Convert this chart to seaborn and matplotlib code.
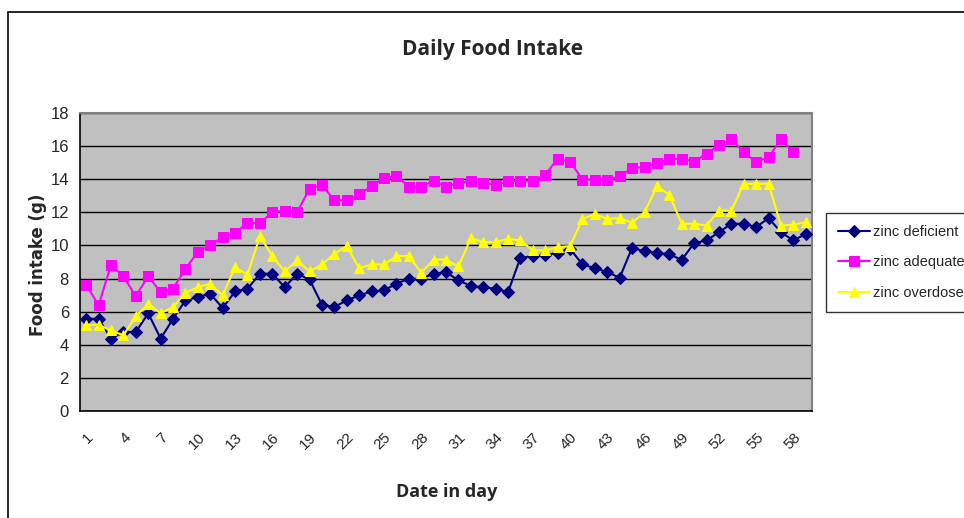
import numpy as np
import pandas as pd
import matplotlib
matplotlib.use('Agg')
import matplotlib.pyplot as plt
from matplotlib.patches import Rectangle
import seaborn as sns

# Data (daily food intake in g)
days = list(range(1, 60))
zinc_deficient = [5.57, 5.57, 4.37, 4.77, 4.77, 5.9, 4.37, 5.57, 6.68, 6.88,
                  7.08, 6.22, 7.22, 7.38, 8.29, 8.29, 7.48, 8.29, 7.95, 6.42,
                  6.28, 6.68, 6.98, 7.22, 7.28, 7.69, 7.99, 7.99, 8.29, 8.39,
                  7.89, 7.55, 7.48, 7.38, 7.18, 9.26, 9.34, 9.4, 9.56, 9.8,
                  8.85, 8.63, 8.39, 8.05, 9.86, 9.64, 9.56, 9.46, 9.13, 10.14,
                  10.3, 10.8, 11.31, 11.31, 11.11, 11.65, 10.8, 10.3, 10.7]
zinc_adequate = [7.63, 6.38, 8.83, 8.13, 6.94, 8.15, 7.18, 7.38, 8.59, 9.6,
                 10.0, 10.5, 10.76, 11.35, 11.35, 12.0, 12.1, 12.0, 13.42, 13.66,
                 12.72, 12.72, 13.08, 13.58, 14.06, 14.19, 13.56, 13.56, 13.9, 13.56,
                 13.78, 13.88, 13.78, 13.66, 13.88, 13.88, 13.88, 14.27, 15.23, 15.07,
                 13.98, 13.98, 13.98, 14.17, 14.67, 14.75, 14.97, 15.23, 15.23, 15.07,
                 15.53, 16.04, 16.4, 15.63, 15.03, 15.33, 16.4, 15.63, np.nan]
zinc_overdose = [5.2, 5.2, 4.87, 4.57, 5.73, 6.48, 5.9, 6.28, 7.14, 7.48,
                 7.69, 6.98, 8.69, 8.23, 10.56, 9.36, 8.43, 9.1, 8.43, 8.85,
                 9.5, 9.96, 8.63, 8.85, 8.85, 9.36, 9.36, 8.35, 9.15, 9.15,
                 8.73, 10.44, 10.2, 10.2, 10.4, 10.3, 9.7, 9.7, 9.9, 9.96,
                 11.6, 11.9, 11.6, 11.65, 11.37, 12.0, 13.58, 13.06, 11.31, 11.31,
                 11.2, 12.11, 12.11, 13.72, 13.72, 13.72, 11.2, 11.25, 11.41]
tick_days = list(range(1, 60, 3))

series = [
    ('zinc deficient', zinc_deficient, '#000080', 'D', 6),
    ('zinc adequate', zinc_adequate, '#FF00FF', 's', 6.5),
    ('zinc overdose', zinc_overdose, '#FFFF00', '^', 7.5),
]

sns.set_style('white')
plt.rcParams['font.family'] = ['Liberation Sans', 'DejaVu Sans']

fig = plt.figure(figsize=(9.64, 5.18), dpi=100)
ax = fig.add_axes([80 / 964, 1 - 411 / 518, 732 / 964, 298 / 518])
ax.set_facecolor('#C0C0C0')

for name, vals, color, marker, ms in series:
    df = pd.DataFrame({'day': days, 'intake': vals}).dropna()
    sns.lineplot(data=df, x='day', y='intake', ax=ax, color=color, marker=marker,
                 markersize=ms, markeredgecolor=color, linewidth=1.5, label=name,
                 zorder=3)

ax.set_xlim(0.5, 59.5)
ax.set_ylim(0, 18)
ax.set_yticks(range(0, 19, 2))
ax.yaxis.grid(True, color='black', linewidth=1)
ax.set_axisbelow(True)

# category labels every 3 days, tick marks on category boundaries
ax.set_xticks(tick_days)
ax.set_xticklabels([str(d) for d in tick_days], rotation=45, ha='right',
                   rotation_mode='anchor', fontsize=11)
ax.set_xticks(np.arange(0.5, 60, 1), minor=True)
ax.tick_params(axis='x', which='major', length=0, pad=14)
ax.tick_params(axis='x', which='minor', length=6, width=1, color='black', direction='out')
ax.tick_params(axis='y', length=5, width=1, color='black', direction='out', labelsize=12, pad=3)

for side in ['left', 'bottom']:
    ax.spines[side].set_color('black')
    ax.spines[side].set_linewidth(1.2)
for side in ['top', 'right']:
    ax.spines[side].set_color('#808080')
    ax.spines[side].set_linewidth(1.5)

ax.set_xlabel('')
ax.set_ylabel('')
fig.text(447 / 964, 1 - 492 / 518, 'Date in day', ha='center', va='center',
         fontsize=13, fontweight='bold', family=['Open Sans', 'DejaVu Sans'])
fig.text(38 / 964, 1 - 265 / 518, 'Food intake (g)', ha='center', va='center',
         rotation=90, fontsize=12, fontweight='bold', family=['DejaVu Sans'])
fig.text(493 / 964, 1 - 50 / 518, 'Daily Food Intake', ha='center', va='center',
         fontsize=15, fontweight='bold', family=['Open Sans', 'DejaVu Sans'])

leg = ax.legend(loc='upper left', bbox_to_anchor=(826 / 964, 1 - 213 / 518),
                bbox_transform=fig.transFigure, frameon=True, fancybox=False,
                edgecolor='black', fontsize=10.5, borderpad=0.8, labelspacing=1.15,
                handlelength=2.2, handletextpad=0.2, borderaxespad=0)
leg.get_frame().set_linewidth(1)

# outer chart frame
fig.add_artist(Rectangle((8 / 964, -0.1), 1.2, 1 - 12 / 518 + 0.1, transform=fig.transFigure,
                         fill=False, edgecolor='black', linewidth=1.2, clip_on=False))

fig.savefig('out.png', dpi=100)
